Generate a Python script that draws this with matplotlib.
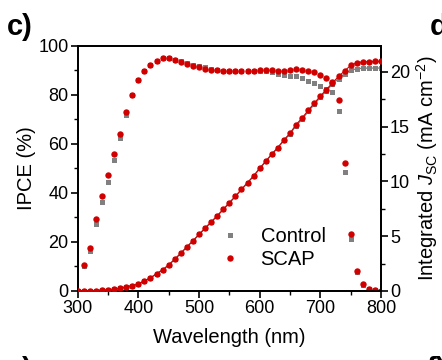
import numpy as np
import matplotlib
matplotlib.use("Agg")
import matplotlib.pyplot as plt
from matplotlib.lines import Line2D
from matplotlib.ticker import MultipleLocator

plt.rcParams['font.family'] = ['Liberation Sans', 'DejaVu Sans']
plt.rcParams['mathtext.fontset'] = 'custom'
plt.rcParams['mathtext.rm'] = 'Liberation Sans'
plt.rcParams['mathtext.it'] = 'Liberation Sans:italic'

# ---- data ----
wl_ipce = list(range(310, 801, 10))
ipce_scap = [10.5, 17.7, 29.4, 38.8, 47.2, 55.8, 64.1, 72.8, 80.1, 86.0,
             89.5, 92.0, 93.9, 94.8, 94.8, 94.2, 93.4, 92.6, 91.8, 91.2,
             90.6, 90.2, 90.0, 89.8, 89.7, 89.7, 89.7, 89.8, 89.8, 89.9,
             89.9, 89.9, 89.8, 89.8, 90.2, 90.5, 90.2, 89.8, 89.1, 88.2,
             86.8, 85.3, 77.8, 52.1, 23.1, 8.2, 2.7, 0.9, 0.3, 0.1]
ipce_ctrl = [10.0, 16.3, 27.2, 36.3, 44.6, 53.3, 62.3, 71.8, 80.0, 86.0,
             89.5, 92.0, 93.9, 94.8, 94.8, 94.3, 93.6, 92.9, 92.2, 91.7,
             91.2, 90.6, 90.1, 89.8, 89.7, 89.7, 89.7, 89.7, 89.6, 89.5,
             89.5, 89.2, 88.6, 88.0, 87.6, 87.5, 86.7, 85.7, 84.6, 83.4,
             82.3, 81.0, 73.2, 48.4, 21.1, 7.6, 2.4, 0.8, 0.3, 0.1]

wl_jsc = list(range(300, 801, 10))
jsc_scap = [0.0, 0.0, 0.02, 0.04, 0.07, 0.1, 0.15, 0.25, 0.37, 0.49,
            0.64, 0.92, 1.19, 1.58, 1.92, 2.38, 2.9, 3.45, 4.03, 4.58,
            5.16, 5.74, 6.29, 6.87, 7.45, 8.06, 8.64, 9.28, 9.89, 10.5,
            11.2, 11.84, 12.5, 13.1, 13.8, 14.4, 15.2, 15.8, 16.5, 17.15,
            17.8, 18.4, 19.0, 19.6, 20.1, 20.6, 20.85, 20.92, 20.95, 20.96,
            20.96]
jsc_ctrl = [0.0, 0.0, 0.02, 0.04, 0.07, 0.1, 0.15, 0.25, 0.37, 0.49,
            0.64, 0.92, 1.19, 1.58, 1.92, 2.38, 2.9, 3.45, 4.03, 4.58,
            5.16, 5.74, 6.29, 6.87, 7.45, 8.06, 8.64, 9.28, 9.89, 10.5,
            11.2, 11.84, 12.5, 13.1, 13.75, 14.35, 15.1, 15.7, 16.4, 17.05,
            17.7, 18.3, 18.9, 19.4, 19.85, 20.15, 20.3, 20.34, 20.36, 20.36,
            20.36]

RED = '#d10000'
GRAY = '#808080'

fig = plt.figure(figsize=(4.42, 3.6), dpi=100)
ax = fig.add_axes([0.1758, 0.1917, 0.6862, 0.6813])
ax2 = ax.twinx()

ms_sq = 3.6
ms_c = 4.6
ax.plot(wl_ipce, ipce_ctrl, 's', color=GRAY, ms=ms_sq, mew=0, zorder=2)
ax.plot(wl_ipce, ipce_scap, 'o', color=RED, ms=ms_c, mew=0, zorder=3)
ax2.plot(wl_jsc, jsc_ctrl, '-', color=GRAY, lw=1.0, zorder=2)
ax2.plot(wl_jsc, jsc_ctrl, 's', color=GRAY, ms=ms_sq, mew=0, zorder=2)
ax2.plot(wl_jsc, jsc_scap, '-', color=RED, lw=0.8, zorder=3)
ax2.plot(wl_jsc, jsc_scap, 'o', color=RED, ms=ms_c, mew=0, zorder=3)

ax.set_xlim(300, 800)
ax.set_ylim(0, 100)
ax2.set_ylim(0, 22.4)

ax.xaxis.set_major_locator(MultipleLocator(100))
ax.xaxis.set_minor_locator(MultipleLocator(50))
ax.yaxis.set_major_locator(MultipleLocator(20))
ax.yaxis.set_minor_locator(MultipleLocator(10))
ax2.yaxis.set_major_locator(MultipleLocator(5))
ax2.yaxis.set_minor_locator(MultipleLocator(2.5))

for a in (ax, ax2):
    for s in a.spines.values():
        s.set_linewidth(1.3)
    a.tick_params(which='major', direction='out', length=5, width=1.2, labelsize=13, pad=1.5)
    a.tick_params(which='minor', direction='out', length=3, width=1.0)

ax.set_xlabel('Wavelength (nm)', fontsize=14.5, labelpad=8)
ax.set_ylabel('IPCE (%)', fontsize=14.5, labelpad=2)
ax2.set_ylabel(r'Integrated $J_{\rm SC}$ (mA cm$^{-2}$)', fontsize=14.5, labelpad=3)

handles = [Line2D([], [], ls='none', marker='s', color=GRAY, ms=ms_sq, mew=0),
           Line2D([], [], ls='none', marker='o', color=RED, ms=ms_c, mew=0)]
ax2.legend(handles, ['Control', 'SCAP'], loc='upper left', bbox_to_anchor=(0.47, 0.26),
           frameon=False, fontsize=14.5, handlelength=1.0, handletextpad=1.0,
           labelspacing=0.2, borderpad=0, borderaxespad=0)

fig.text(0.015, 0.965, 'c)', fontsize=21, fontweight='bold', va='top', ha='left')
fig.text(0.972, 0.965, 'd)', fontsize=21, fontweight='bold', va='top', ha='left')
fig.text(0.015, 0.012, 'e)', fontsize=21, fontweight='bold', va='top', ha='left')
fig.text(0.965, 0.012, 'f)', fontsize=21, fontweight='bold', va='top', ha='left')

fig.savefig('out.png', dpi=100)
